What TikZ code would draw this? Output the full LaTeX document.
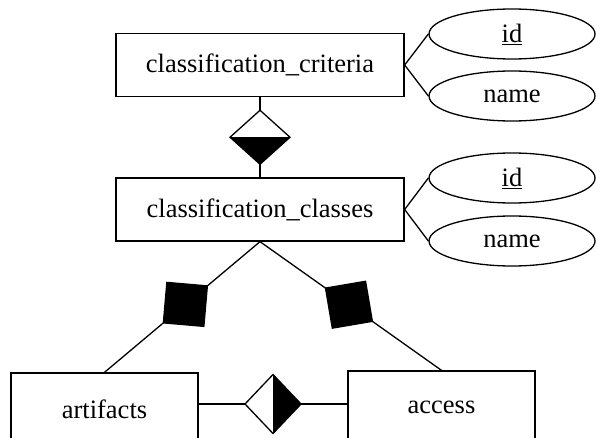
\documentclass[tikz,border=0pt]{standalone}
\usepackage{fontspec}
\setmainfont{Liberation Serif}
\usetikzlibrary{shapes.geometric,positioning}

\tikzset{
  entity/.style={draw, rectangle, minimum width=288pt, minimum height=63pt,
    font=\fontsize{26.5}{30}\selectfont},
  attrib/.style={draw, ellipse, minimum width=166pt, minimum height=50pt,
    inner sep=0pt, font=\fontsize{26.5}{30}\selectfont},
  relship/.style={draw, fill=white, diamond, inner sep=0pt, outer sep=0pt,
    minimum width=60pt, minimum height=54pt},
  member/.style={draw, fill=black, diamond, aspect=1, inner sep=0pt,
    minimum size=58pt, sloped}
}

\begin{document}
\begin{tikzpicture}[x=1pt,y=1pt,line width=1.3pt]
    \useasboundingbox (0,0) rectangle (596,437);
    % entities
    \node[entity] (crit) at (260,372) {classification\_criteria};
    \node[entity] (cls) at (260,227.5) {classification\_classes};
    \node[entity, minimum width=187pt, minimum height=72pt] (art) at (104.5,28) {artifacts};
    \node[entity, minimum width=187pt, minimum height=72pt] (acc) at (441.5,30) {access};
    % attributes
    \node[attrib] (critid) at (512,403) {\underline{id}};
    \node[attrib] (critname) at (512,341) {name};
    \node[attrib] (clsid) at (512,259) {\underline{id}};
    \node[attrib] (clsname) at (512,196) {name};
    \draw (crit.east) -- (critid.west) (crit.east) -- (critname.west);
    \draw (cls.east) -- (clsid.west) (cls.east) -- (clsname.west);
    % criteria -> classes
    \draw (crit.south) -- (cls.north) node[relship, midway] (has) {};
    \fill (has.west) -- (has.south) -- (has.east) -- cycle;
    % classes -> artifacts / access
    \draw (cls.south) -- (art.north) node[member, pos=0.48] (sqa) {};
    \draw (cls.south) -- (acc.north) node[member, pos=0.49] (sqb) {};
    % artifacts -- access
    \node[relship, minimum width=56pt, minimum height=59pt] (uses) at (273,33) {};
    \draw (uses.west) -- (uses.west -| art.east);
    \draw (uses.east) -- (uses.east -| acc.west);
    \fill (uses.north) -- (uses.east) -- (uses.south) -- cycle;
\end{tikzpicture}
\end{document}
